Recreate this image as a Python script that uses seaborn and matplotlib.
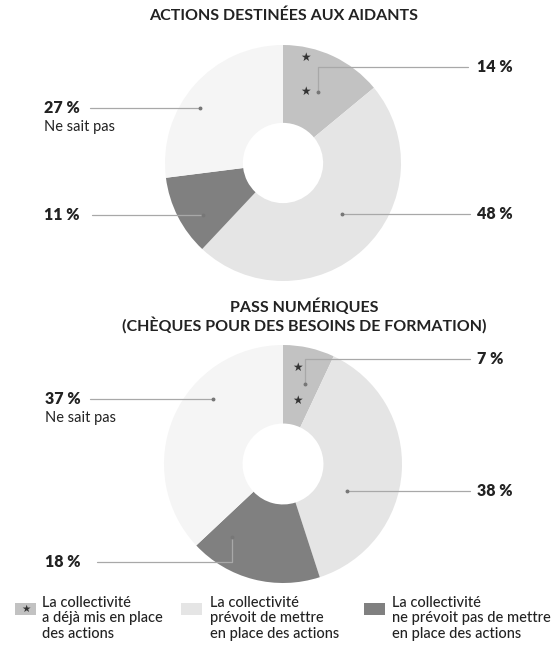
import numpy as np
import pandas as pd
import seaborn as sns
import matplotlib
matplotlib.use("Agg")
import matplotlib.pyplot as plt
from matplotlib.lines import Line2D

# ---------------- data ----------------
categories = ["déjà mis en place", "prévoit de mettre en place",
              "ne prévoit pas", "ne sait pas"]
aidants_values = [14, 48, 11, 27]
pass_values = [7, 38, 18, 37]
title_aidants = "ACTIONS DESTINÉES AUX AIDANTS"
title_pass = "PASS NUMÉRIQUES\n(CHÈQUES POUR DES BESOINS DE FORMATION)"
legend_labels = ["La collectivité\na déjà mis en place\ndes actions",
                 "La collectivité\nprévoit de mettre\nen place des actions",
                 "La collectivité\nne prévoit pas de mettre\nen place des actions"]
extra_note = {"ne sait pas": "Ne sait pas"}

# ---------------- style ----------------
sns.set_theme(style="white")
plt.rcParams["font.family"] = ["Lato", "DejaVu Sans"]
palette = sns.color_palette(["#c2c2c2", "#e5e5e5", "#808080", "#f5f5f5"])
TXT = "#222222"
LINE = "#a8a8a8"

W, H = 557, 653
fig = plt.figure(figsize=(W / 100, H / 100), dpi=100)
fig.patch.set_facecolor("white")


def fx(x):
    return x / W


def fy(y):
    return 1 - y / H


def donut(cx, cy, r, values, labels_layout, star_px):
    ax = fig.add_axes([fx(cx - r), fy(cy + r), 2 * r / W, 2 * r / H])
    df = pd.DataFrame({"cat": categories, "val": values})
    ax.pie(df["val"], colors=palette, startangle=90,
           counterclock=False, radius=1,
           wedgeprops=dict(width=0.66, edgecolor="none"))
    ax.set_xlim(-1, 1)
    ax.set_ylim(-1, 1)
    ax.axis("off")
    for i, v in enumerate(df["val"]):
        lx, ly, ex, ax_px, vy = labels_layout[i]
        xs = [fx(ex), fx(ax_px)]
        ys = [fy(ly), fy(ly)]
        if vy is not None:
            xs.append(fx(ax_px))
            ys.append(fy(vy))
        fig.lines.append(Line2D(xs, ys, transform=fig.transFigure,
                                color=LINE, lw=0.9))
        fig.lines.append(Line2D([xs[-1]], [ys[-1]], transform=fig.transFigure,
                                marker="o", ms=1.8, color="#777777", lw=0))
        fig.text(fx(lx), fy(ly), f"{v} %", ha="left", va="center",
                 fontsize=11.5, fontweight="heavy", color=TXT)
        if df["cat"][i] in extra_note:
            fig.text(fx(lx), fy(ly + 19), extra_note[df["cat"][i]],
                     ha="left", va="center", fontsize=10.5, color=TXT)
    for sx, sy in star_px:
        fig.text(fx(sx), fy(sy), "★", ha="center", va="center",
                 fontsize=8.5, color="#333333", family=["DejaVu Sans"])
    return ax


# top donut
fig.text(fx(284), fy(16), title_aidants, ha="center", va="center",
         fontsize=11.5, fontweight="bold", color=TXT)
donut(283, 163, 118, aidants_values,
      [(477, 67, 468, 318, 92),
       (477, 214, 470, 342, None),
       (44, 215, 92, 203, None),
       (44, 108, 90, 200, None)],
      [(305, 57), (305, 91)])

# bottom donut
fig.text(fx(304), fy(316), title_pass, ha="center", va="center",
         fontsize=11.5, fontweight="bold", color=TXT, linespacing=1.1)
donut(283, 464, 119, pass_values,
      [(477, 359, 470, 305, 384),
       (477, 491, 470, 347, None),
       (45, 562, 97, 232, 537),
       (45, 399, 90, 213, None)],
      [(297, 367), (297, 400)])

# legend
leg_x = [(15, 42), (181, 210), (364, 392)]
for i, (sx, tx) in enumerate(leg_x):
    fig.patches.append(plt.Rectangle((fx(sx), fy(615)), 21 / W, 12 / H,
                                     transform=fig.transFigure,
                                     facecolor=palette[i], edgecolor="none"))
    if i == 0:
        fig.text(fx(sx + 11), fy(608.5), "★", ha="center", va="center",
                 fontsize=7.5, color="#333333", family=["DejaVu Sans"])
    fig.text(fx(tx), fy(596), legend_labels[i], ha="left", va="top",
             fontsize=10.5, fontweight="medium", color=TXT, linespacing=1.12)

fig.savefig("out.png", dpi=100, facecolor="white")
